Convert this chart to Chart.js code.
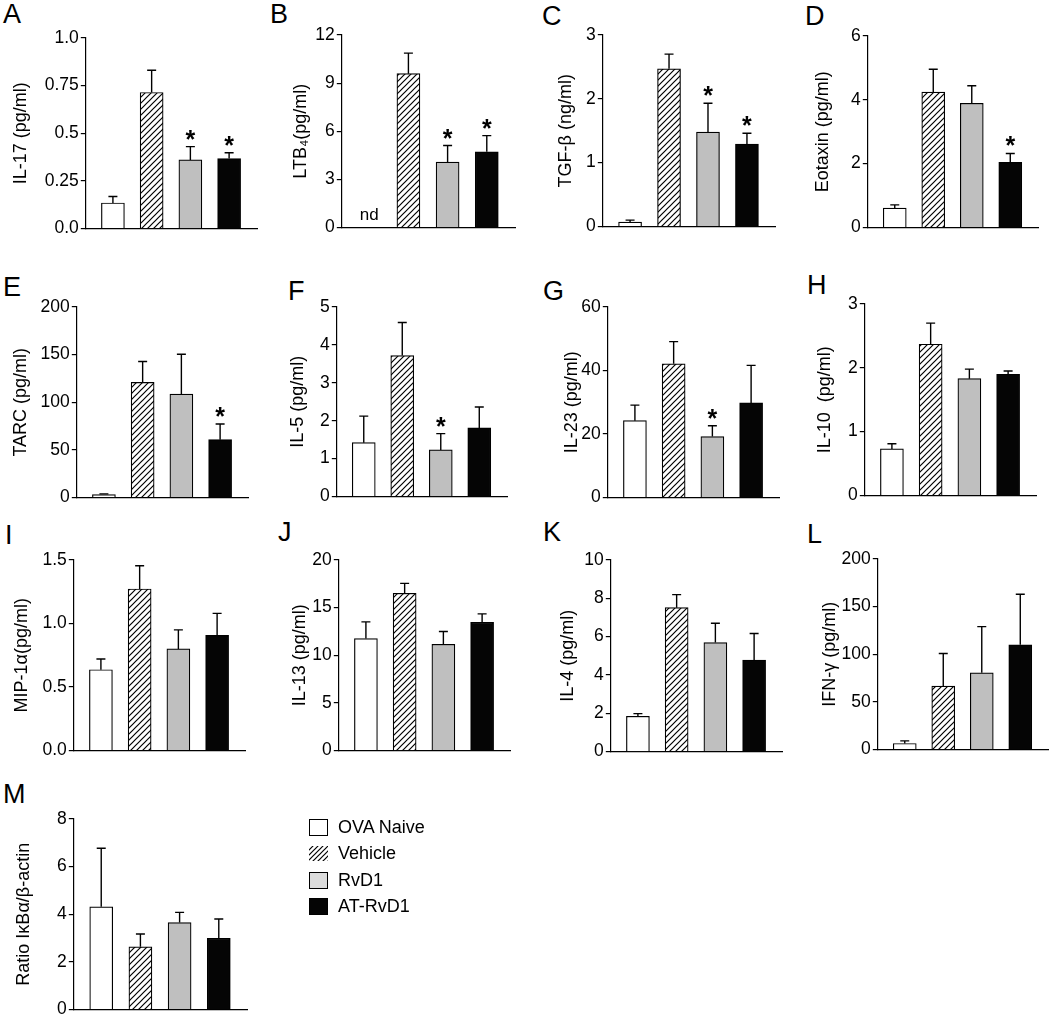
<!DOCTYPE html>
<html>
<head>
<meta charset="UTF-8">
<title>Cytokines by treatment group</title>
<script src="https://cdn.jsdelivr.net/npm/chart.js@4.4.1/dist/chart.umd.min.js"></script>
<style>
  body { margin: 0; background: #fff; font-family: 'Liberation Sans', Arial, sans-serif; color: #000; }
  #fig { position: relative; width: 1050px; height: 1016px; overflow: hidden; }
  #fig > canvas { position: absolute; }
  .letter { position: absolute; font-size: 27px; line-height: 1; }
  .legend { position: absolute; left: 309px; top: 814px; font-size: 18px; }
  .legend-row { height: 26.5px; display: flex; align-items: center; }
  .legend-row canvas { margin-right: 10px; }
</style>
</head>
<body>
<div id="fig"></div>
<script>
// groups (same order in every panel)
var groups = ['OVA Naive', 'Vehicle', 'RvD1', 'AT-RvD1'];

// means, SEM, significance (1 = *), y tick labels
var il17 = [0.134, 0.714, 0.36, 0.367];
var il17Sem = [0.034, 0.117, 0.07, 0.031];
var il17Stars = [0, 0, 1, 1];
var il17Ticks = ['0.0', '0.25', '0.5', '0.75', '1.0'];

var ltb4 = [null, 9.59, 4.08, 4.72];
var ltb4Sem = [null, 1.28, 1.03, 1.01];
var ltb4Stars = [0, 0, 1, 1];
var ltb4Ticks = ['0', '3', '6', '9', '12'];

var tgfb = [0.068, 2.47, 1.48, 1.29];
var tgfbSem = [0.032, 0.23, 0.45, 0.17];
var tgfbStars = [0, 0, 1, 1];
var tgfbTicks = ['0', '1', '2', '3'];

var eotaxin = [0.61, 4.24, 3.89, 2.04];
var eotaxinSem = [0.10, 0.72, 0.55, 0.28];
var eotaxinStars = [0, 0, 0, 1];
var eotaxinTicks = ['0', '2', '4', '6'];

var tarc = [3.1, 120.8, 108.5, 60.7];
var tarcSem = [0.7, 22, 41.9, 16.4];
var tarcStars = [0, 0, 0, 1];
var tarcTicks = ['0', '50', '100', '150', '200'];

var il5 = [1.42, 3.72, 1.23, 1.81];
var il5Sem = [0.70, 0.87, 0.43, 0.55];
var il5Stars = [0, 0, 1, 0];
var il5Ticks = ['0', '1', '2', '3', '4', '5'];

var il23 = [24.2, 42.1, 19.2, 29.8];
var il23Sem = [4.9, 7.0, 3.4, 11.8];
var il23Stars = [0, 0, 1, 0];
var il23Ticks = ['0', '20', '40', '60'];

var il10 = [0.73, 2.37, 1.83, 1.90];
var il10Sem = [0.08, 0.33, 0.15, 0.05];
var il10Stars = [0, 0, 0, 0];
var il10Ticks = ['0', '1', '2', '3'];

var mip1a = [0.636, 1.272, 0.80, 0.906];
var mip1aSem = [0.084, 0.183, 0.15, 0.174];
var mip1aStars = [0, 0, 0, 0];
var mip1aTicks = ['0.0', '0.5', '1.0', '1.5'];

var il13 = [11.75, 16.5, 11.15, 13.46];
var il13Sem = [1.75, 1.05, 1.35, 0.88];
var il13Stars = [0, 0, 0, 0];
var il13Ticks = ['0', '5', '10', '15', '20'];

var il4 = [1.84, 7.51, 5.69, 4.78];
var il4Sem = [0.14, 0.68, 1.01, 1.38];
var il4Stars = [0, 0, 0, 0];
var il4Ticks = ['0', '2', '4', '6', '8', '10'];

var ifng = [6.3, 66.5, 80.5, 110];
var ifngSem = [2.8, 34.3, 48.5, 53];
var ifngStars = [0, 0, 0, 0];
var ifngTicks = ['0', '50', '100', '150', '200'];

var ikba = [4.31, 2.63, 3.65, 2.99];
var ikbaSem = [2.46, 0.54, 0.43, 0.81];
var ikbaStars = [0, 0, 0, 0];
var ikbaTicks = ['0', '2', '4', '6', '8'];

var panels = [
  { letter: 'A', title: 'IL-17 (pg/ml)', values: il17, sem: il17Sem, stars: il17Stars, ticks: il17Ticks },
  { letter: 'B', title: 'LTB\u2084(pg/ml)', values: ltb4, sem: ltb4Sem, stars: ltb4Stars, ticks: ltb4Ticks, nd: true },
  { letter: 'C', title: 'TGF-\u03b2 (ng/ml)', values: tgfb, sem: tgfbSem, stars: tgfbStars, ticks: tgfbTicks },
  { letter: 'D', title: 'Eotaxin (pg/ml)', values: eotaxin, sem: eotaxinSem, stars: eotaxinStars, ticks: eotaxinTicks },
  { letter: 'E', title: 'TARC (pg/ml)', values: tarc, sem: tarcSem, stars: tarcStars, ticks: tarcTicks },
  { letter: 'F', title: 'IL-5 (pg/ml)', values: il5, sem: il5Sem, stars: il5Stars, ticks: il5Ticks },
  { letter: 'G', title: 'IL-23 (pg/ml)', values: il23, sem: il23Sem, stars: il23Stars, ticks: il23Ticks },
  { letter: 'H', title: 'IL-10  (pg/ml)', values: il10, sem: il10Sem, stars: il10Stars, ticks: il10Ticks },
  { letter: 'I', title: 'MIP-1\u03b1(pg/ml)', values: mip1a, sem: mip1aSem, stars: mip1aStars, ticks: mip1aTicks },
  { letter: 'J', title: 'IL-13 (pg/ml)', values: il13, sem: il13Sem, stars: il13Stars, ticks: il13Ticks },
  { letter: 'K', title: 'IL-4 (pg/ml)', values: il4, sem: il4Sem, stars: il4Stars, ticks: il4Ticks },
  { letter: 'L', title: 'IFN-\u03b3 (pg/ml)', values: ifng, sem: ifngSem, stars: ifngStars, ticks: ifngTicks },
  { letter: 'M', title: 'Ratio I\u03baB\u03b1/\u03b2-actin', values: ikba, sem: ikbaSem, stars: ikbaStars, ticks: ikbaTicks }
];

// where each plot area sits on the page
var boxes = {
  A: { left: 86, top: 38, bottom: 229, right: 257, gap: 65, lx: 3, ly: 5 },
  B: { left: 342, top: 35, bottom: 228, right: 515, gap: 41, lx: 270, ly: 5 },
  C: { left: 603, top: 35, bottom: 227, right: 775, gap: 37, lx: 542, ly: 7 },
  D: { left: 868, top: 36, bottom: 228, right: 1038, gap: 45, lx: 805, ly: 7 },
  E: { left: 77, top: 307, bottom: 498, right: 248, gap: 56, lx: 3, ly: 278 },
  F: { left: 337, top: 307, bottom: 497, right: 507, gap: 39, lx: 288, ly: 282 },
  G: { left: 608, top: 307, bottom: 498, right: 779, gap: 36, lx: 543, ly: 282 },
  H: { left: 865, top: 304, bottom: 496, right: 1036, gap: 40, lx: 807, ly: 276 },
  I: { left: 74, top: 560, bottom: 751, right: 245, gap: 52, lx: 5, ly: 526 },
  J: { left: 339, top: 560, bottom: 751, right: 510, gap: 39, lx: 278, ly: 523 },
  K: { left: 611, top: 560, bottom: 752, right: 782, gap: 43, lx: 543, ly: 523 },
  L: { left: 878, top: 559, bottom: 750, right: 1048, gap: 48, lx: 807, ly: 525 },
  M: { left: 74, top: 819, bottom: 1010, right: 247, gap: 50, lx: 3, ly: 785 }
};

var FONT = "'Liberation Sans', Arial, sans-serif";
Chart.defaults.font.family = FONT;
Chart.defaults.color = '#000';

function hatchTile(size, bg) {
  var c = document.createElement('canvas');
  c.width = size; c.height = size;
  var g = c.getContext('2d');
  if (bg) { g.fillStyle = bg; g.fillRect(0, 0, size, size); }
  g.strokeStyle = '#000';
  g.lineWidth = 1.2;
  g.beginPath();
  g.moveTo(0, size); g.lineTo(size, 0);
  g.moveTo(-1, 1); g.lineTo(1, -1);
  g.moveTo(size - 1, size + 1); g.lineTo(size + 1, size - 1);
  g.stroke();
  return c;
}

function overlay(panel) {
  return {
    id: 'overlay' + panel.letter,
    afterDatasetsDraw: function(chart) {
      var ctx = chart.ctx, xs = chart.scales.x, ys = chart.scales.y;
      ctx.save();
      ctx.strokeStyle = '#000';
      ctx.fillStyle = '#000';
      ctx.lineWidth = 1.4;
      ctx.textAlign = 'center';
      panel.values.forEach(function(v, i) {
        var cx = xs.getPixelForValue(i);
        if (v === null) {
          if (panel.nd) {
            ctx.font = '17px ' + FONT;
            ctx.textBaseline = 'alphabetic';
            ctx.fillText('nd', cx, ys.bottom - 8);
          }
          return;
        }
        var y0 = ys.getPixelForValue(v);
        var y1 = ys.getPixelForValue(v + panel.sem[i]);
        ctx.beginPath();
        ctx.moveTo(cx, y0); ctx.lineTo(cx, y1);
        ctx.moveTo(cx - 4.5, y1); ctx.lineTo(cx + 4.5, y1);
        ctx.stroke();
        if (panel.stars[i]) {
          ctx.font = 'bold 25px ' + FONT;
          ctx.textBaseline = 'alphabetic';
          ctx.fillText('*', cx, y1 + 1);
        }
      });
      ctx.restore();
    }
  };
}

var fig = document.getElementById('fig');

panels.forEach(function(panel) {
  var b = boxes[panel.letter];
  var axisW = b.gap + 10.8;
  var padTop = 14, padBottom = 12, padRight = 6;
  var w = Math.round(axisW + (b.right - b.left) + padRight);
  var h = Math.round((b.bottom - b.top) + padTop + padBottom);

  var lt = document.createElement('div');
  lt.className = 'letter';
  lt.textContent = panel.letter;
  lt.style.left = b.lx + 'px';
  lt.style.top = (b.ly - 4) + 'px';
  fig.appendChild(lt);

  var cv = document.createElement('canvas');
  cv.width = w; cv.height = h;
  cv.style.left = Math.round(b.left - axisW) + 'px';
  cv.style.top = (b.top - padTop) + 'px';
  cv.style.width = w + 'px'; cv.style.height = h + 'px';
  fig.appendChild(cv);

  var pattern = cv.getContext('2d').createPattern(hatchTile(6, '#fff'), 'repeat');
  var tickVals = panel.ticks.map(parseFloat);

  new Chart(cv, {
    type: 'bar',
    data: {
      datasets: [{
        label: panel.title,
        data: panel.values.map(function(v, i) { return { x: i, y: v }; }),
        backgroundColor: ['#ffffff', pattern, '#bfbfbf', '#050505'],
        borderColor: '#000',
        borderWidth: 1.2,
        barThickness: 23
      }]
    },
    options: {
      responsive: false,
      animation: false,
      devicePixelRatio: 1,
      layout: { padding: { top: padTop, bottom: padBottom, left: 0, right: padRight } },
      plugins: { legend: { display: false }, tooltip: { enabled: false } },
      scales: {
        x: {
          type: 'linear',
          offset: false,
          min: -0.7,
          max: 3.72,
          grid: { display: false, drawTicks: false, offset: false },
          ticks: { display: false },
          border: { display: true, color: '#000', width: 1.2 },
          afterFit: function(s) { s.height = 0; }
        },
        y: {
          min: 0,
          max: tickVals[tickVals.length - 1],
          grid: { drawOnChartArea: false, drawTicks: true, tickLength: 5, color: '#000', tickColor: '#000', lineWidth: 1.2 },
          border: { display: true, color: '#000', width: 1.2 },
          ticks: {
            color: '#000',
            padding: 2,
            autoSkip: false,
            font: { size: 17.5 },
            callback: function(val, idx) { return panel.ticks[idx]; }
          },
          afterBuildTicks: function(s) {
            s.ticks = tickVals.map(function(v) { return { value: v }; });
          },
          title: { display: true, text: panel.title, color: '#000', font: { size: 18 }, padding: 0 },
          afterFit: function(s) { s.width = axisW; }
        }
      }
    },
    plugins: [overlay(panel)]
  });
});

// legend
var legend = document.createElement('div');
legend.className = 'legend';
var swatches = [
  { fill: '#ffffff', border: true },
  { hatch: true, border: false },
  { fill: '#dcdcdc', border: true },
  { fill: '#050505', border: true }
];
groups.forEach(function(name, i) {
  var row = document.createElement('div');
  row.className = 'legend-row';
  var sw = document.createElement('canvas');
  sw.width = 19; sw.height = 17;
  var g = sw.getContext('2d');
  var s = swatches[i];
  if (s.hatch) {
    g.fillStyle = g.createPattern(hatchTile(5, null), 'repeat');
    g.fillRect(0, 1, 19, 15);
  } else {
    g.fillStyle = s.fill;
    g.fillRect(0.5, 0.5, 18, 16);
    g.strokeStyle = '#000';
    g.lineWidth = 1;
    g.strokeRect(0.5, 0.5, 18, 16);
  }
  row.appendChild(sw);
  var t = document.createElement('span');
  t.textContent = name;
  row.appendChild(t);
  legend.appendChild(row);
});
fig.appendChild(legend);
</script>
</body>
</html>
